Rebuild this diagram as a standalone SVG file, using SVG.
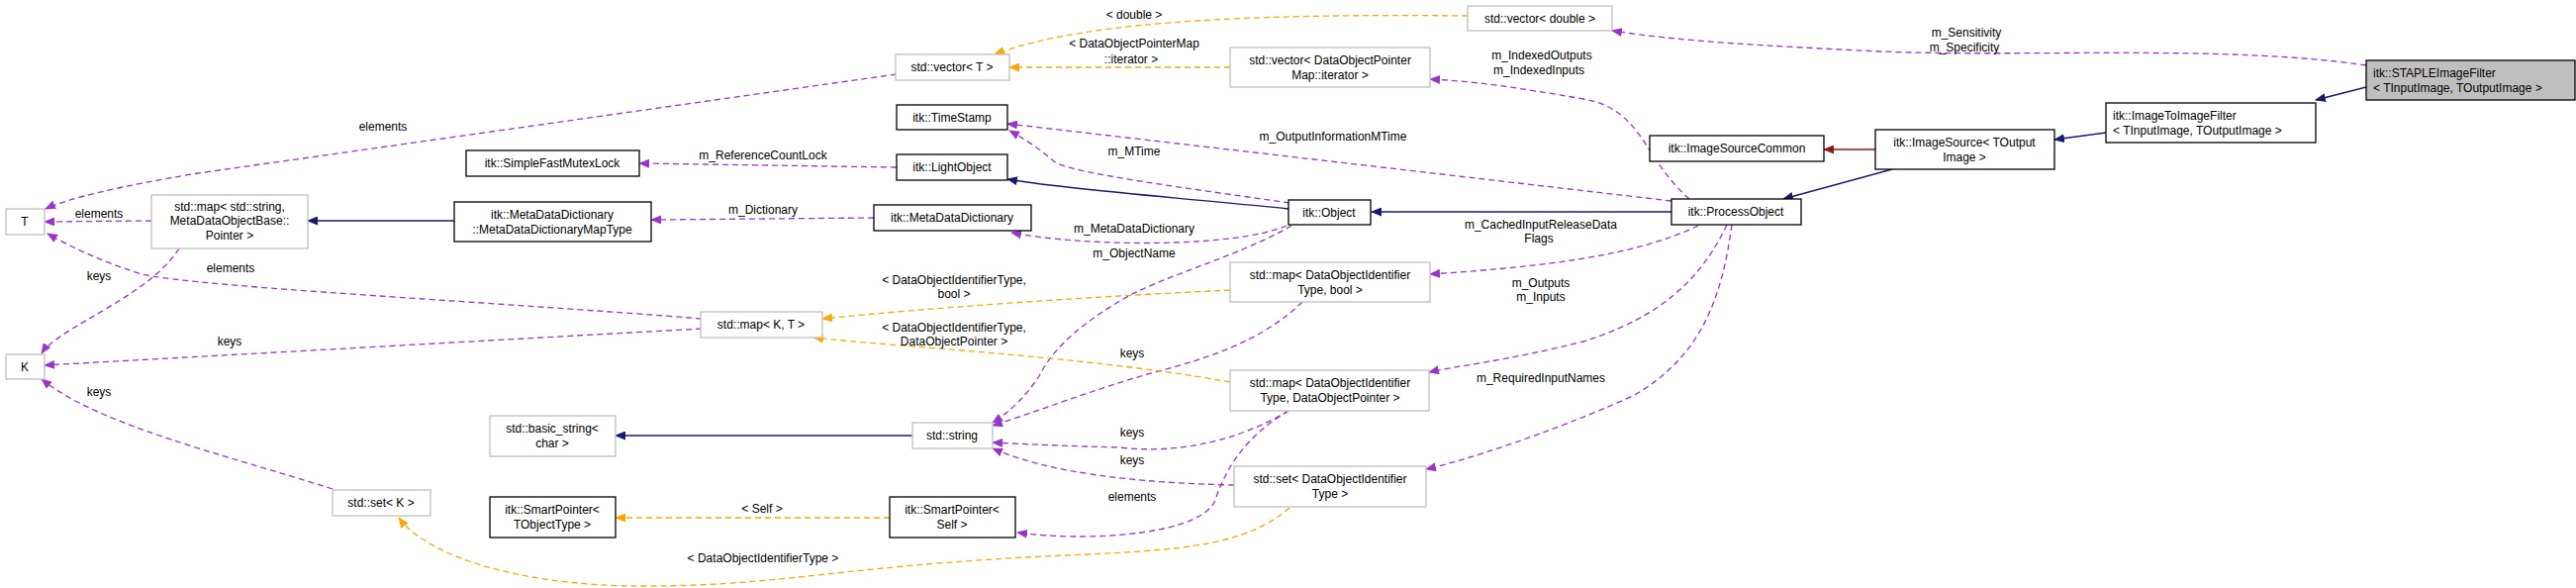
<svg xmlns="http://www.w3.org/2000/svg" width="2603" height="594" viewBox="0 0 2603 594">
<style>
text{font-family:"Liberation Sans",Arial,sans-serif;font-size:12px;fill:#000}
.n text{text-anchor:middle}
.l{text-anchor:middle}
.b{fill:#fff;stroke:#000;stroke-width:1.3}
.g{fill:#fff;stroke:#bfbfbf;stroke-width:1.3}
.e path{fill:none;stroke-width:1.3}
.p{stroke:#9a32cd;stroke-dasharray:6,4;marker-end:url(#ap)}
.o{stroke:#ffa500;stroke-dasharray:6,4;marker-end:url(#ao)}
.v{stroke:#191970;marker-end:url(#av)}
.r{stroke:#8b1a1a;marker-end:url(#ar)}
</style>
<defs>
<marker id="ap" markerWidth="11" markerHeight="9" refX="10" refY="4.5" orient="auto" markerUnits="userSpaceOnUse"><path d="M0,0L11,4.5L0,9z" fill="#9a32cd"/></marker>
<marker id="ao" markerWidth="11" markerHeight="9" refX="10" refY="4.5" orient="auto" markerUnits="userSpaceOnUse"><path d="M0,0L11,4.5L0,9z" fill="#ffa500"/></marker>
<marker id="av" markerWidth="11" markerHeight="9" refX="10" refY="4.5" orient="auto" markerUnits="userSpaceOnUse"><path d="M0,0L11,4.5L0,9z" fill="#191970"/></marker>
<marker id="ar" markerWidth="11" markerHeight="9" refX="10" refY="4.5" orient="auto" markerUnits="userSpaceOnUse"><path d="M0,0L11,4.5L0,9z" fill="#8b1a1a"/></marker>
</defs>
<rect width="2603" height="594" fill="#fff"/>
<g id="edges" class="e">
<path class="v" d="M2391,88L2340,101"/>
<path class="v" d="M2128,134L2076,141"/>
<path class="r" d="M1895,151L1843,151"/>
<path class="v" d="M1912,171L1802,201"/>
<path class="v" d="M1689,214L1386,214"/>
<path class="v" d="M1302,211C1200,200 1080,192 1018,181"/>
<path class="p" d="M2391,66C2250,45 2050,58 1900,52C1780,46 1700,42 1629,31"/>
<path class="o" d="M1483,16C1300,14 1100,18 1005,55"/>
<path class="o" d="M1243,68L1020,68"/>
<path class="p" d="M906,75L200,175Q80,195 46,211"/>
<path class="p" d="M1707,201C1660,160 1660,110 1600,100C1530,88 1490,82 1445,80"/>
<path class="p" d="M1689,203L1018,125"/>
<path class="p" d="M1303,205C1200,190 1080,175 1065,163C1050,150 1035,140 1020,132"/>
<path class="p" d="M906,169L646,165"/>
<path class="p" d="M883,220L658,222"/>
<path class="v" d="M459,223L311,223"/>
<path class="p" d="M153,223L45,224"/>
<path class="p" d="M181,251C150,300 60,330 42,357"/>
<path class="p" d="M709,322C500,305 200,290 143,277Q90,260 48,236"/>
<path class="p" d="M709,332L45,369"/>
<path class="p" d="M336,494C230,460 100,430 42,383"/>
<path class="p" d="M1300,228C1250,250 1100,250 1022,235"/>
<path class="p" d="M1305,228C1250,260 1170,280 1130,305C1080,335 1060,360 1050,380Q1030,410 1003,427"/>
<path class="p" d="M1716,228C1650,260 1550,270 1445,277"/>
<path class="o" d="M1243,293C1100,300 950,310 831,322"/>
<path class="p" d="M1316,305C1280,340 1230,360 1170,375C1100,395 1050,415 1003,430"/>
<path class="o" d="M1243,386C1100,360 900,350 822,341"/>
<path class="p" d="M1745,227C1720,280 1680,320 1600,345C1520,365 1470,370 1444,376"/>
<path class="p" d="M1750,227C1740,300 1720,360 1650,400C1560,440 1480,465 1441,474"/>
<path class="p" d="M1302,415C1260,440 1200,460 1131,452Q1060,450 1003,447"/>
<path class="p" d="M1247,490C1150,488 1060,478 1003,453"/>
<path class="p" d="M1302,415C1260,440 1240,470 1228,505C1215,540 1100,548 1028,538"/>
<path class="v" d="M922,440L622,440"/>
<path class="o" d="M899,523L622,523"/>
<path class="o" d="M1303,513C1260,550 1200,555 1100,560C850,570 800,592 650,592C520,592 430,560 403,523"/>
</g>
<g id="labels">
<text class="l" x="1987" y="37">m_Sensitivity</text>
<text class="l" x="1985" y="52">m_Specificity</text>
<text class="l" x="1146" y="19">&lt; double &gt;</text>
<text class="l" x="1146" y="48">&lt; DataObjectPointerMap</text>
<text class="l" x="1143" y="64">::iterator &gt;</text>
<text class="l" x="1558" y="60">m_IndexedOutputs</text>
<text class="l" x="1555" y="75">m_IndexedInputs</text>
<text class="l" x="1347" y="142">m_OutputInformationMTime</text>
<text class="l" x="1146" y="157">m_MTime</text>
<text class="l" x="771" y="161">m_ReferenceCountLock</text>
<text class="l" x="387" y="132">elements</text>
<text class="l" x="771" y="216">m_Dictionary</text>
<text class="l" x="100" y="220">elements</text>
<text class="l" x="233" y="275">elements</text>
<text class="l" x="100" y="283">keys</text>
<text class="l" x="232" y="349">keys</text>
<text class="l" x="100" y="400">keys</text>
<text class="l" x="1557" y="231">m_CachedInputReleaseData</text>
<text class="l" x="1555" y="245">Flags</text>
<text class="l" x="1146" y="235">m_MetaDataDictionary</text>
<text class="l" x="1146" y="260">m_ObjectName</text>
<text class="l" x="964" y="287">&lt; DataObjectIdentifierType,</text>
<text class="l" x="964" y="301">bool &gt;</text>
<text class="l" x="1557" y="290">m_Outputs</text>
<text class="l" x="1557" y="304">m_Inputs</text>
<text class="l" x="964" y="335">&lt; DataObjectIdentifierType,</text>
<text class="l" x="964" y="349">DataObjectPointer &gt;</text>
<text class="l" x="1144" y="361">keys</text>
<text class="l" x="1557" y="386">m_RequiredInputNames</text>
<text class="l" x="1144" y="441">keys</text>
<text class="l" x="1144" y="469">keys</text>
<text class="l" x="1144" y="506">elements</text>
<text class="l" x="770" y="518">&lt; Self &gt;</text>
<text class="l" x="771" y="568">&lt; DataObjectIdentifierType &gt;</text>
</g>
<g id="staple"><rect x="2391" y="61" width="211" height="40" fill="#bfbfbf" stroke="#000" stroke-width="1.3"/><text x="2398" y="78">itk::STAPLEImageFilter</text><text x="2398" y="93">&lt; TInputImage, TOutputImage &gt;</text></g>
<g id="imgtoimg"><rect class="b" x="2128" y="104" width="212" height="40"/><text x="2135" y="121">itk::ImageToImageFilter</text><text x="2135" y="136">&lt; TInputImage, TOutputImage &gt;</text></g>
<g class="n">
<g id="imgsource"><rect class="b" x="1895" y="131" width="181" height="40"/><text x="1985" y="148">itk::ImageSource&lt; TOutput</text><text x="1985" y="163">Image &gt;</text></g>
<g id="imgsourcecommon"><rect class="b" x="1667" y="137" width="176" height="26"/><text x="1755" y="154">itk::ImageSourceCommon</text></g>
<g id="processobject"><rect class="b" x="1689" y="201" width="131" height="26"/><text x="1754" y="218">itk::ProcessObject</text></g>
<g id="object"><rect class="b" x="1302" y="202" width="83" height="25"/><text x="1343" y="219">itk::Object</text></g>
<g id="timestamp"><rect class="b" x="906" y="106" width="112" height="25"/><text x="962" y="123">itk::TimeStamp</text></g>
<g id="lightobject"><rect class="b" x="906" y="156" width="112" height="26"/><text x="962" y="173">itk::LightObject</text></g>
<g id="mdd"><rect class="b" x="883" y="207" width="159" height="26"/><text x="962" y="224">itk::MetaDataDictionary</text></g>
<g id="mutex"><rect class="b" x="471" y="152" width="175" height="26"/><text x="558" y="169">itk::SimpleFastMutexLock</text></g>
<g id="maptype"><rect class="b" x="459" y="204" width="199" height="40"/><text x="558" y="221">itk::MetaDataDictionary</text><text x="558" y="236">::MetaDataDictionaryMapType</text></g>
<g id="mapstr"><rect class="g" x="153" y="197" width="158" height="54"/><text x="232" y="213">std::map&lt; std::string,</text><text x="232" y="227">MetaDataObjectBase::</text><text x="232" y="242">Pointer &gt;</text></g>
<g id="T"><rect class="g" x="6" y="211" width="39" height="26"/><text x="25" y="228">T</text></g>
<g id="K"><rect class="g" x="6" y="358" width="39" height="25"/><text x="25" y="375">K</text></g>
<g id="vecT"><rect class="g" x="905" y="55" width="115" height="26"/><text x="962" y="72">std::vector&lt; T &gt;</text></g>
<g id="vecdouble"><rect class="g" x="1483" y="6" width="146" height="25"/><text x="1556" y="23">std::vector&lt; double &gt;</text></g>
<g id="veciter"><rect class="g" x="1243" y="48" width="202" height="40"/><text x="1344" y="65">std::vector&lt; DataObjectPointer</text><text x="1344" y="80">Map::iterator &gt;</text></g>
<g id="mapKT"><rect class="g" x="708" y="315" width="123" height="26"/><text x="769" y="332">std::map&lt; K, T &gt;</text></g>
<g id="mapbool"><rect class="g" x="1243" y="265" width="202" height="40"/><text x="1344" y="282">std::map&lt; DataObjectIdentifier</text><text x="1344" y="297">Type, bool &gt;</text></g>
<g id="mapdop"><rect class="g" x="1243" y="374" width="201" height="41"/><text x="1344" y="391">std::map&lt; DataObjectIdentifier</text><text x="1344" y="406">Type, DataObjectPointer &gt;</text></g>
<g id="string"><rect class="g" x="922" y="427" width="81" height="26"/><text x="962" y="444">std::string</text></g>
<g id="basicstring"><rect class="g" x="495" y="420" width="127" height="41"/><text x="558" y="437">std::basic_string&lt;</text><text x="558" y="452">char &gt;</text></g>
<g id="setdoit"><rect class="g" x="1247" y="471" width="194" height="41"/><text x="1344" y="488">std::set&lt; DataObjectIdentifier</text><text x="1344" y="503">Type &gt;</text></g>
<g id="spself"><rect class="b" x="899" y="502" width="127" height="41"/><text x="962" y="519">itk::SmartPointer&lt;</text><text x="962" y="534">Self &gt;</text></g>
<g id="spobj"><rect class="b" x="495" y="502" width="127" height="41"/><text x="558" y="519">itk::SmartPointer&lt;</text><text x="558" y="534">TObjectType &gt;</text></g>
<g id="setK"><rect class="g" x="336" y="495" width="99" height="26"/><text x="385" y="512">std::set&lt; K &gt;</text></g>
</g>
</svg>
